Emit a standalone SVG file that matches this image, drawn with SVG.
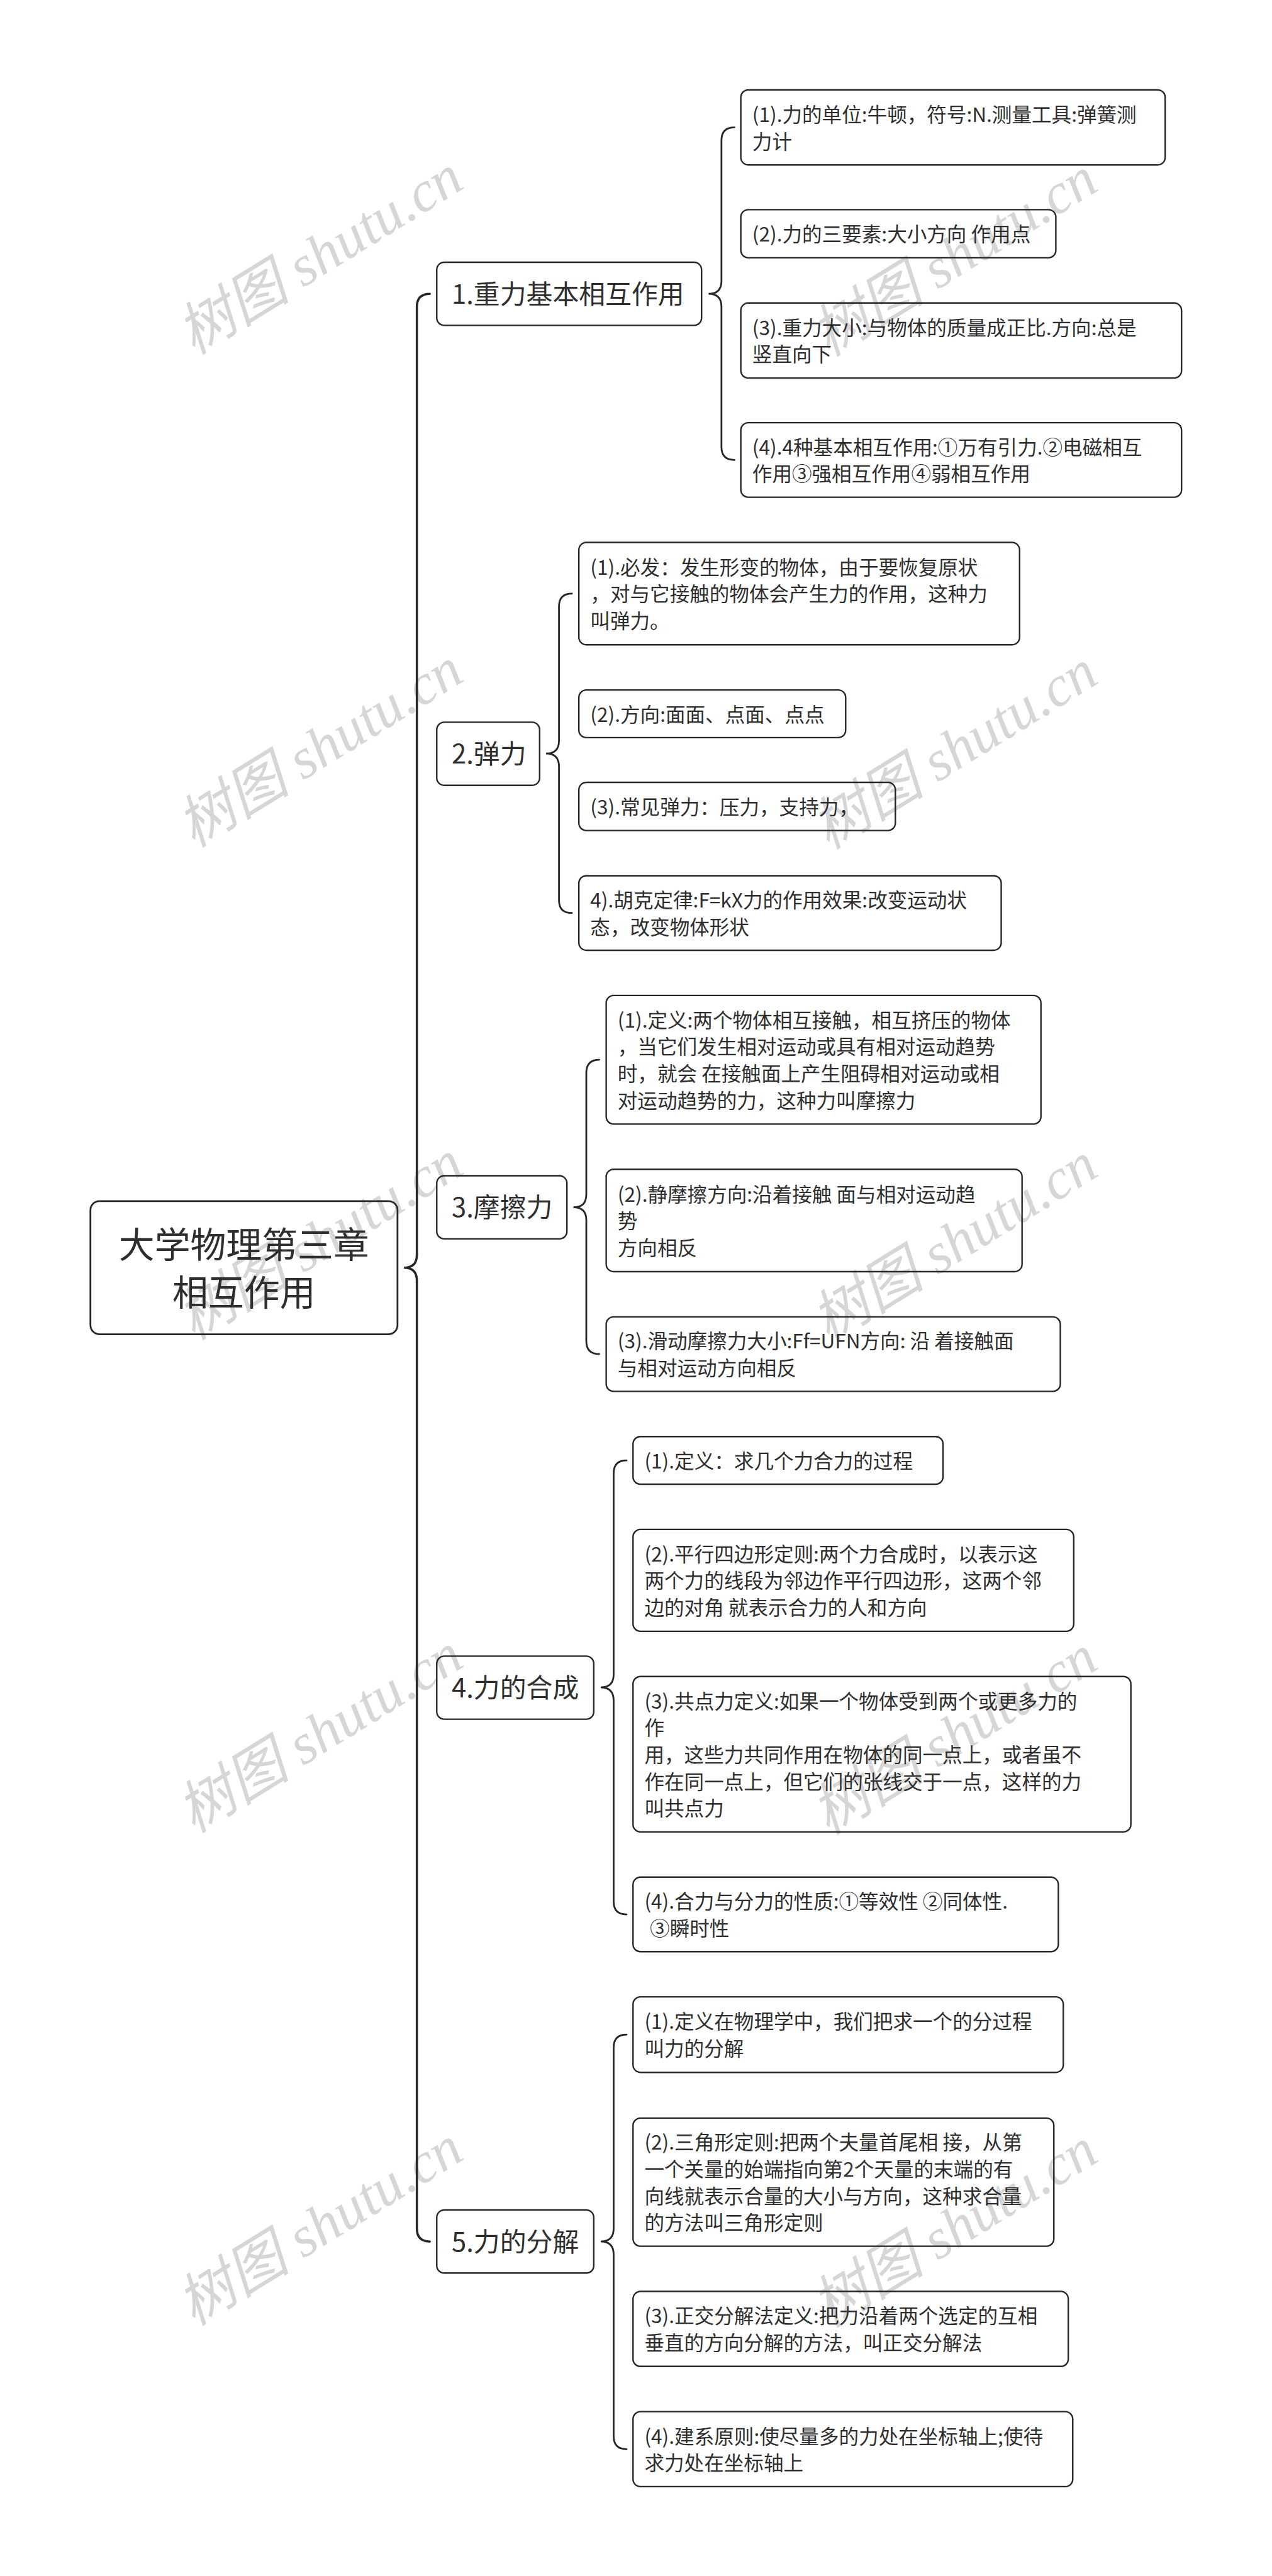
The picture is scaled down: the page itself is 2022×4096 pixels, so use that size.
<svg xmlns="http://www.w3.org/2000/svg" width="2022" height="4096" viewBox="0 0 2022 4096">
<style>
.wm{font-family:"Liberation Serif","Noto Sans CJK SC",serif;font-style:italic;font-size:115px;fill:#d6d6d6;text-anchor:middle}
.box{fill:none;stroke:#262626;stroke-width:3}
.root{fill:none;stroke:#262626;stroke-width:3.5}
.t{font-family:"Noto Sans CJK SC","Noto Sans",sans-serif;fill:#2e2e2e}
.tr{font-size:72px;text-anchor:middle}
.tb{font-size:53px}
.tl{font-size:40px}
.spine{fill:none;stroke:#262626;stroke-width:4.5;stroke-linecap:round}
.br{fill:none;stroke:#262626;stroke-width:3.5;stroke-linecap:round}
</style>
<rect x="0" y="0" width="2022" height="4096" fill="#ffffff"/>
<g transform="scale(0.78984)">
<g id="watermarks">
<text class="wm" x="664" y="546" transform="rotate(-31.7 664 546)">树图 shutu.cn</text>
<text class="wm" x="1941" y="550" transform="rotate(-31.7 1941 550)">树图 shutu.cn</text>
<text class="wm" x="664" y="1538" transform="rotate(-31.7 664 1538)">树图 shutu.cn</text>
<text class="wm" x="1941" y="1542" transform="rotate(-31.7 1941 1542)">树图 shutu.cn</text>
<text class="wm" x="664" y="2530" transform="rotate(-31.7 664 2530)">树图 shutu.cn</text>
<text class="wm" x="1941" y="2534" transform="rotate(-31.7 1941 2534)">树图 shutu.cn</text>
<text class="wm" x="664" y="3522" transform="rotate(-31.7 664 3522)">树图 shutu.cn</text>
<text class="wm" x="1941" y="3526" transform="rotate(-31.7 1941 3526)">树图 shutu.cn</text>
<text class="wm" x="664" y="4514" transform="rotate(-31.7 664 4514)">树图 shutu.cn</text>
<text class="wm" x="1941" y="4518" transform="rotate(-31.7 1941 4518)">树图 shutu.cn</text>
</g>
<g id="connectors">
<path class="spine" d="M865,591.5 Q839,591.5 839,617.5 L839,2526 Q839,2552 813,2552 Q839,2552 839,2578 L839,4486.5 Q839,4512.5 865,4512.5"/>
<path class="br" d="M1478,256.5 Q1452,256.5 1452,282.5 L1452,565.5 Q1452,591.5 1426,591.5 Q1452,591.5 1452,617.5 L1452,900 Q1452,926 1478,926"/>
<path class="br" d="M1151,1195 Q1125,1195 1125,1221 L1125,1491 Q1125,1517 1099,1517 Q1125,1517 1125,1543 L1125,1812 Q1125,1838 1151,1838"/>
<path class="br" d="M1206,2133.5 Q1180,2133.5 1180,2159.5 L1180,2404.5 Q1180,2430.5 1154,2430.5 Q1180,2430.5 1180,2456.5 L1180,2700 Q1180,2726 1206,2726"/>
<path class="br" d="M1261,2940 Q1235,2940 1235,2966 L1235,3371 Q1235,3397 1209,3397 Q1235,3397 1235,3423 L1235,3828 Q1235,3854 1261,3854"/>
<path class="br" d="M1261,4096 Q1235,4096 1235,4122 L1235,4486.5 Q1235,4512.5 1209,4512.5 Q1235,4512.5 1235,4538.5 L1235,4904.5 Q1235,4930.5 1261,4930.5"/>
</g>
<g id="root">
<rect class="root" x="182" y="2418" width="618" height="268" rx="18"/>
<text class="t tr" x="491" y="2532">大学物理第三章</text>
<text class="t tr" x="491" y="2629">相互作用</text>
</g>
<g id="b1">
<rect class="box" x="879" y="528" width="533" height="127" rx="15"/>
<text class="t tb" x="909" y="611.5">1.重力基本相互作用</text>
</g>
<g id="b1-1">
<rect class="box" x="1491" y="181" width="854" height="151" rx="15"/>
<text class="t tl" x="1514" y="245.5">(1).力的单位:牛顿，符号:N.测量工具:弹簧测</text>
<text class="t tl" x="1514" y="299.5">力计</text>
</g>
<g id="b1-2">
<rect class="box" x="1491" y="422" width="634" height="97" rx="15"/>
<text class="t tl" x="1514" y="486.5">(2).力的三要素:大小方向 作用点</text>
</g>
<g id="b1-3">
<rect class="box" x="1491" y="610" width="887" height="151" rx="15"/>
<text class="t tl" x="1514" y="674.5">(3).重力大小:与物体的质量成正比.方向:总是</text>
<text class="t tl" x="1514" y="728.5">竖直向下</text>
</g>
<g id="b1-4">
<rect class="box" x="1491" y="851" width="887" height="150" rx="15"/>
<text class="t tl" x="1514" y="915">(4).4种基本相互作用:①万有引力.②电磁相互</text>
<text class="t tl" x="1514" y="969">作用③强相互作用④弱相互作用</text>
</g>
<g id="b2">
<rect class="box" x="879" y="1454" width="207" height="127" rx="15"/>
<text class="t tb" x="909" y="1537">2.弹力</text>
</g>
<g id="b2-1">
<rect class="box" x="1165" y="1092" width="887" height="206" rx="15"/>
<text class="t tl" x="1188" y="1157">(1).必发：发生形变的物体，由于要恢复原状</text>
<text class="t tl" x="1188" y="1211">，对与它接触的物体会产生力的作用，这种力</text>
<text class="t tl" x="1188" y="1265">叫弹力。</text>
</g>
<g id="b2-2">
<rect class="box" x="1165" y="1389" width="537" height="96" rx="15"/>
<text class="t tl" x="1188" y="1453">(2).方向:面面、点面、点点</text>
</g>
<g id="b2-3">
<rect class="box" x="1165" y="1575" width="637" height="97" rx="15"/>
<text class="t tl" x="1188" y="1639.5">(3).常见弹力：压力，支持力，</text>
</g>
<g id="b2-4">
<rect class="box" x="1165" y="1763" width="850" height="150" rx="15"/>
<text class="t tl" x="1188" y="1827">4).胡克定律:F=kX力的作用效果:改变运动状</text>
<text class="t tl" x="1188" y="1881">态，改变物体形状</text>
</g>
<g id="b3">
<rect class="box" x="879" y="2367" width="262" height="127" rx="15"/>
<text class="t tb" x="909" y="2450.5">3.摩擦力</text>
</g>
<g id="b3-1">
<rect class="box" x="1220" y="2004" width="875" height="259" rx="15"/>
<text class="t tl" x="1243" y="2068.5">(1).定义:两个物体相互接触，相互挤压的物体</text>
<text class="t tl" x="1243" y="2122.5">，当它们发生相对运动或具有相对运动趋势</text>
<text class="t tl" x="1243" y="2176.5">时，就会 在接触面上产生阻碍相对运动或相</text>
<text class="t tl" x="1243" y="2230.5">对运动趋势的力，这种力叫摩擦力</text>
</g>
<g id="b3-2">
<rect class="box" x="1220" y="2354" width="837" height="206" rx="15"/>
<text class="t tl" x="1243" y="2419">(2).静摩擦方向:沿着接触 面与相对运动趋</text>
<text class="t tl" x="1243" y="2473">势</text>
<text class="t tl" x="1243" y="2527">方向相反</text>
</g>
<g id="b3-3">
<rect class="box" x="1220" y="2651" width="914" height="150" rx="15"/>
<text class="t tl" x="1243" y="2715">(3).滑动摩擦力大小:Ff=UFN方向: 沿 着接触面</text>
<text class="t tl" x="1243" y="2769">与相对运动方向相反</text>
</g>
<g id="b4">
<rect class="box" x="879" y="3334" width="316" height="127" rx="15"/>
<text class="t tb" x="909" y="3417">4.力的合成</text>
</g>
<g id="b4-1">
<rect class="box" x="1274" y="2892" width="624" height="96" rx="15"/>
<text class="t tl" x="1297" y="2956">(1).定义：求几个力合力的过程</text>
</g>
<g id="b4-2">
<rect class="box" x="1274" y="3079" width="887" height="205" rx="15"/>
<text class="t tl" x="1297" y="3143.5">(2).平行四边形定则:两个力合成时，以表示这</text>
<text class="t tl" x="1297" y="3197.5">两个力的线段为邻边作平行四边形，这两个邻</text>
<text class="t tl" x="1297" y="3251.5">边的对角 就表示合力的人和方向</text>
</g>
<g id="b4-3">
<rect class="box" x="1274" y="3375" width="1002" height="313" rx="15"/>
<text class="t tl" x="1297" y="3439.5">(3).共点力定义:如果一个物体受到两个或更多力的</text>
<text class="t tl" x="1297" y="3493.5">作</text>
<text class="t tl" x="1297" y="3547.5">用，这些力共同作用在物体的同一点上，或者虽不</text>
<text class="t tl" x="1297" y="3601.5">作在同一点上，但它们的张线交于一点，这样的力</text>
<text class="t tl" x="1297" y="3655.5">叫共点力</text>
</g>
<g id="b4-4">
<rect class="box" x="1274" y="3779" width="856" height="150" rx="15"/>
<text class="t tl" x="1297" y="3843">(4).合力与分力的性质:①等效性 ②同体性.</text>
<text class="t tl" x="1308" y="3897">③瞬时性</text>
</g>
<g id="b5">
<rect class="box" x="879" y="4449" width="316" height="127" rx="15"/>
<text class="t tb" x="909" y="4532.5">5.力的分解</text>
</g>
<g id="b5-1">
<rect class="box" x="1274" y="4020" width="866" height="152" rx="15"/>
<text class="t tl" x="1297" y="4085">(1).定义在物理学中，我们把求一个的分过程</text>
<text class="t tl" x="1297" y="4139">叫力的分解</text>
</g>
<g id="b5-2">
<rect class="box" x="1274" y="4264" width="847" height="258" rx="15"/>
<text class="t tl" x="1297" y="4328">(2).三角形定则:把两个夫量首尾相 接，从第</text>
<text class="t tl" x="1297" y="4382">一个关量的始端指向第2个天量的末端的有</text>
<text class="t tl" x="1297" y="4436">向线就表示合量的大小与方向，这种求合量</text>
<text class="t tl" x="1297" y="4490">的方法叫三角形定则</text>
</g>
<g id="b5-3">
<rect class="box" x="1274" y="4613" width="876" height="151" rx="15"/>
<text class="t tl" x="1297" y="4677.5">(3).正交分解法定义:把力沿着两个选定的互相</text>
<text class="t tl" x="1297" y="4731.5">垂直的方向分解的方法，叫正交分解法</text>
</g>
<g id="b5-4">
<rect class="box" x="1274" y="4855" width="885" height="151" rx="15"/>
<text class="t tl" x="1297" y="4919.5">(4).建系原则:使尽量多的力处在坐标轴上;使待</text>
<text class="t tl" x="1297" y="4973.5">求力处在坐标轴上</text>
</g>
</g>
</svg>
